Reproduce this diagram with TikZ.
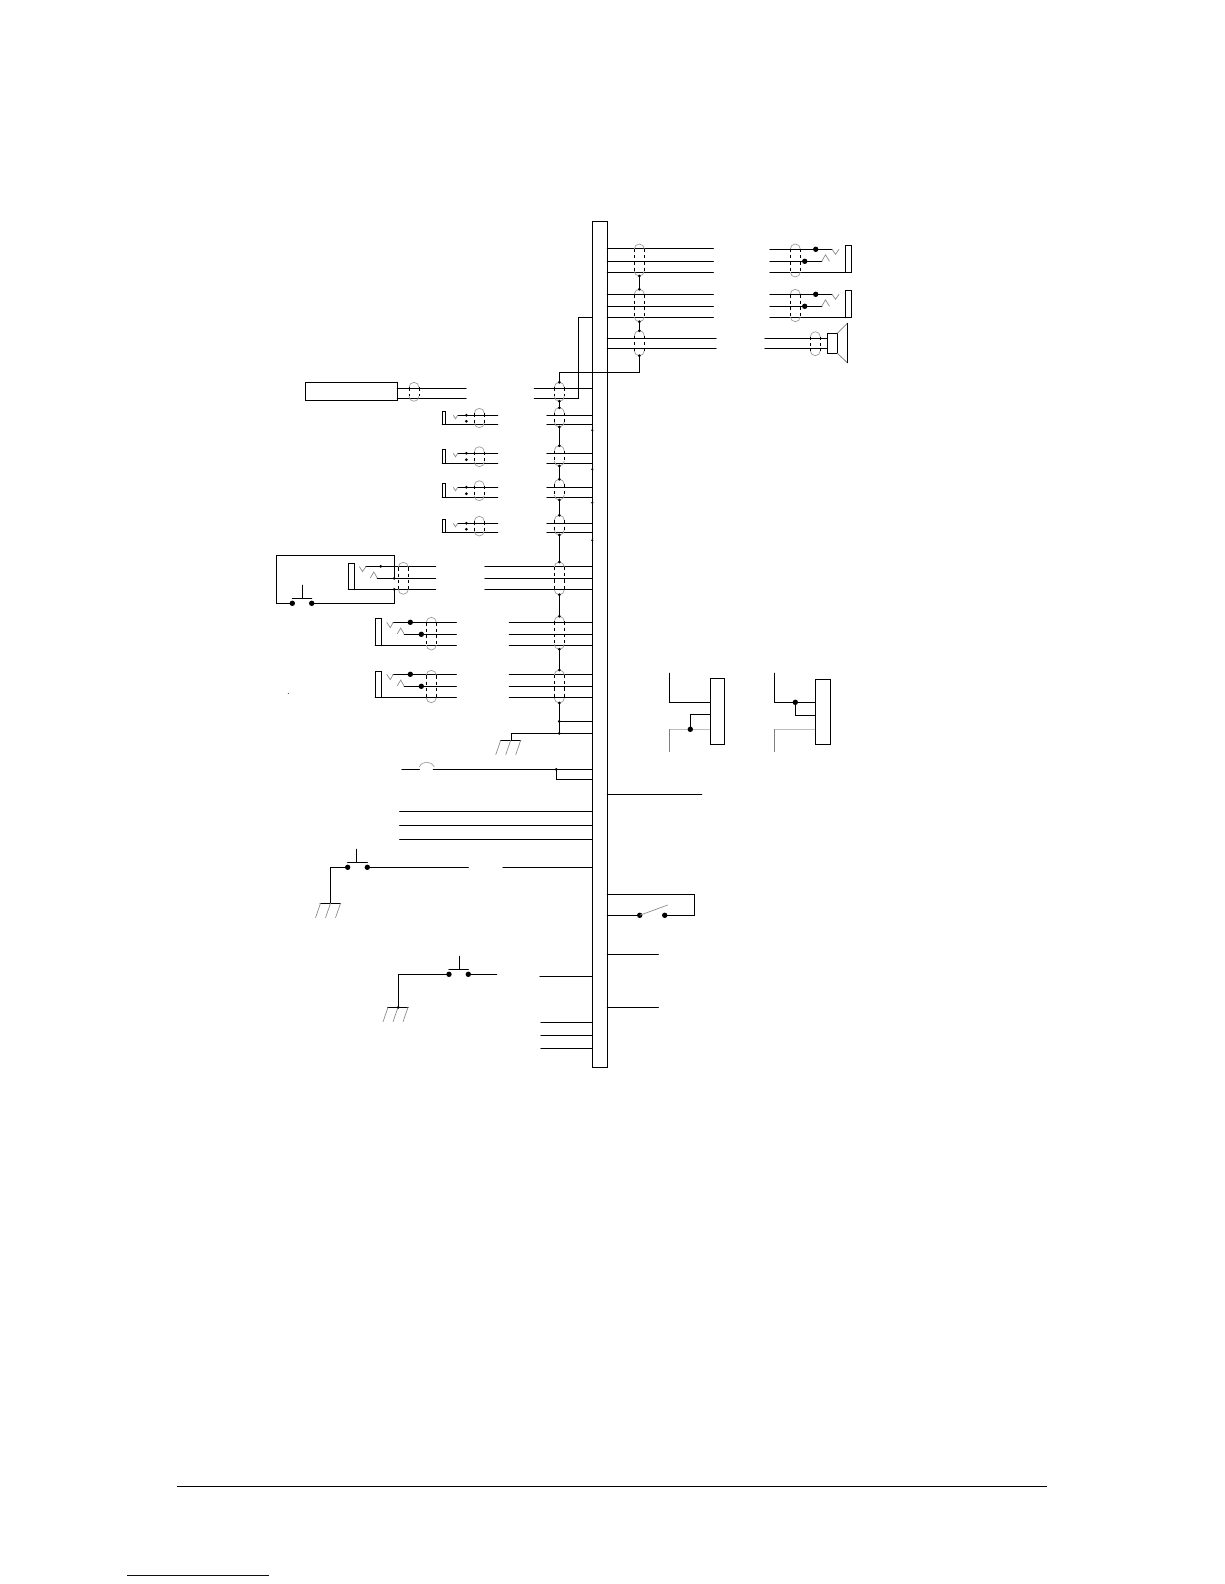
\documentclass[tikz,border=0pt]{standalone}
\tikzset{
  wire/.style={line width=1.15pt,black,line cap=round,line join=miter},
  boxx/.style={draw=black,line width=1.15pt,fill=white,inner sep=0pt,outer sep=0pt,anchor=north west},
  shieldcap/.style={line width=.7pt,black!38},
  shieldside/.style={line width=1pt,black,dash pattern=on 3.2pt off 3pt},
  hatch/.style={line width=.7pt,black!45},
  contact/.style={line width=.7pt,black!45},
  palewire/.style={line width=1.1pt,black!25},
  greywire/.style={line width=1.1pt,black!50},
}
% shield name, centre x, top y, bottom y
\newcommand\shield[4]{%
  \coordinate (#1-t) at (#2,#3); \coordinate (#1-b) at (#2,#4);
  \draw[shieldcap] ({#2-5},{#3+5}) arc[start angle=180,end angle=0,radius=5pt];
  \draw[shieldcap] ({#2-5},{#4-5}) arc[start angle=180,end angle=360,radius=5pt];
  \draw[shieldside] ({#2-5},{#3+5}) -- ({#2-5},{#4-5});
  \draw[shieldside] ({#2+5},{#3+5}) -- ({#2+5},{#4-5});
}
\newcommand\linkup[2]{%
  \draw[wire] (#1) -- (#2);
  \fill (#1) circle (1.5pt); \fill (#2) circle (1.5pt);
}
\newcommand\bigdot[2]{\fill (#1,#2) circle (2.7pt);}
\newcommand\tinydot[2]{\fill (#1,#2) circle (1.5pt);}
\newcommand\barwire[2]{\draw[wire] (#1,#2) -- (bar.west |- 0,#2);}
\newcommand\barwireR[2]{\draw[wire] (bar.east |- 0,#2) -- (#1,#2);}
% ground: centre x, y
\newcommand\ground[2]{%
  \draw[wire] ({#1-10.3},#2) -- ({#1+10},#2);
  \foreach \dx in {-10,0,10}{\draw[hatch] ({#1+\dx},#2) -- ({#1+\dx-5},{#2+14.5});}
}
% push button: x1, x2, y, stem x
\newcommand\pushbtn[4]{%
  \bigdot{#1}{#3}\bigdot{#2}{#3}
  \draw[wire] (#1,{#3-5}) -- (#2,{#3-5});
  \draw[wire] (#4,{#3-5}) -- (#4,{#3-18});
}
% small left jack: rect top, y1, y2, dot y2
\newcommand\jackS[4]{%
  \node[boxx,minimum width=3.6pt,minimum height={#3-#1}] at (442.3,#1) {};
  \draw[wire] (442.3,#3) -- (497.7,#3);
  \draw[wire] (457.7,#2) -- (497.7,#2);
  \tinydot{466.3}{#2}\tinydot{466.3}{#4}
  \draw[contact] (453.3,#2) -- (455.5,{#2+3.5}) -- (457.7,#2);
}
% big left jack: top, y1,y2,y3
\newcommand\jackL[4]{%
  \node[boxx,minimum width=6pt,minimum height={#4-#1}] at (375.3,#1) {};
  \draw[wire] (375.3,#4) -- (456.3,#4);
  \draw[wire] (393.3,#2) -- (456.3,#2);
  \draw[wire] (404.3,#3) -- (456.3,#3);
  \bigdot{410.3}{#2}\bigdot{421.3}{#3}
  \draw[contact] (386.7,#2) -- (390.3,{#2+5.3}) -- (393.3,#2);
  \draw[contact] (397.3,{#3-.5}) -- (400.7,{#3-6.3}) -- (404,{#3-.5});
}
% right jack: y1,y2,y3, top
\newcommand\jackR[4]{%
  \node[boxx,minimum width=6pt,minimum height={#3-#4}] at (845.3,#4) {};
  \draw[wire] (770,#1) -- (831.7,#1);
  \draw[wire] (770,#2) -- (821.7,#2);
  \draw[wire] (770,#3) -- (845.3,#3);
  \bigdot{815.7}{#1}\bigdot{804.7}{#2}
  \draw[contact] (832,#1) -- (835.5,{#1+5}) -- (839,#1);
  \draw[contact] (821.7,#2) -- (825.5,{#2-6.5}) -- (829.5,#2);
}
\begin{document}
\begin{tikzpicture}[x=1pt,y=-1pt]
\useasboundingbox (0,0) rectangle (1224,1584);
\fill[white] (0,0) rectangle (1224,1584);
\node[boxx,minimum width=15pt,minimum height=846pt] (bar) at (592.3,221.3) {};

% right outputs
\foreach \y in {248.3,261.3,272.3,294.3,306.3,317.3}{\barwireR{713.3}{\y}}
\foreach \y in {338.3,348.3}{\barwireR{716}{\y}}
\shield{o1}{639.3}{244}{276}
\shield{o2}{639.3}{289.3}{321.7}
\shield{o3}{639.3}{330.7}{355.7}
\linkup{o1-b}{o2-t}
\linkup{o2-b}{o3-t}
\jackR{249.3}{261.3}{272.3}{245.3}
\jackR{294.3}{306.3}{317.3}{290.3}
\shield{r1}{795.3}{244}{277}
\shield{r2}{795.3}{289.3}{321.7}
% speaker
\node[boxx,minimum width=10pt,minimum height=20pt] (spk) at (827.3,333.3) {};
\draw[wire] (765,338.3) -- (827.3,338.3);
\draw[wire] (765,348.3) -- (827.3,348.3);
\shield{r3}{815.3}{331.7}{355.7}
\draw[greywire,line width=.8pt] (spk.north east) -- (847.3,323.3);
\draw[greywire,line width=.8pt] (spk.south east) -- (847.3,362.7);
\draw[wire] (847.3,323.3) -- (847.3,362.7);

% microphone
\node[boxx,minimum width=92pt,minimum height=18pt] (mic) at (305.3,382.3) {};
\draw[wire] (397.3,388.3) -- (466,388.3);
\draw[wire] (397.3,398.3) -- (466,398.3);
\shield{m1}{414}{382.3}{401.3}
\barwire{534.3}{388.3}
\draw[wire] (534.3,398.3) -- (578.3,398.3) -- (578.3,317.3) -- (bar.west |- 0,317.3);
\shield{m2}{559.3}{382.3}{401.3}
\coordinate (mt) at (559.3,372.3);
\draw[wire] (o3-b) -- (639.3,372.3) -- (mt) -- (m2-t);
\fill (o3-b) circle (1.5pt); \fill (m2-t) circle (1.5pt);

% small jacks
\jackS{411.3}{415.3}{424.3}{421.3}
\jackS{449.3}{453.3}{463.3}{459.7}
\jackS{483.3}{487.3}{497.3}{493.7}
\jackS{519.3}{523.3}{532.3}{529.3}
\shield{a1}{479.3}{408.3}{427.7}
\shield{a2}{479.3}{446.7}{466.7}
\shield{a3}{479.3}{480.7}{500.7}
\shield{a4}{479.3}{516.3}{536}
\foreach \y in {415.3,424.3,453.3,463.3,487.3,497.3,523.3,532.3}{\barwire{547}{\y}}
\shield{b1}{559.3}{407.7}{427}
\shield{b2}{559.3}{445.7}{466}
\shield{b3}{559.3}{479.3}{500}
\shield{b4}{559.3}{515.3}{535}
\linkup{m2-b}{b1-t}
\linkup{b1-b}{b2-t}
\linkup{b2-b}{b3-t}
\linkup{b3-b}{b4-t}
\foreach \y in {430.3,469.3,502.7,540.3}{\fill (592.3,\y) circle (1.2pt);}

% jack with loop
\node[boxx,minimum width=6pt,minimum height=26pt] at (348.3,563.3) {};
\draw[wire] (348.3,589.3) -- (435.7,589.3);
\draw[wire] (366,566.3) -- (435.7,566.3);
\draw[wire] (377.3,578.3) -- (435.7,578.3);
\draw[contact] (359.3,566.5) -- (362.5,571.5) -- (366,566.5);
\draw[contact] (370.3,578) -- (373.8,572) -- (377.3,578);
\tinydot{380.7}{566.3}\tinydot{394.3}{578.3}\tinydot{394.3}{589.3}
\draw[wire] (394.3,578.3) -- (394.3,555.3) -- (276.3,555.3) -- (276.3,603.3) -- (292.3,603.3);
\draw[wire] (311.7,603.3) -- (394.3,603.3) -- (394.3,589.3);
\pushbtn{292.3}{311.7}{603.3}{302.3}
\shield{c0}{403.3}{562.3}{594.3}
\foreach \y in {566.3,578.3,589.3}{\barwire{485}{\y}}
\shield{d0}{559.3}{562}{594.7}
\linkup{b4-b}{d0-t}

% big jacks
\jackL{618.3}{622.3}{634.3}{645.3}
\jackL{671.3}{674.3}{686.3}{697.3}
\shield{c1}{431.3}{617.3}{650}
\shield{c2}{431.3}{670.3}{702.7}
\foreach \y in {622.3,634.3,645.3,674.3,686.3,697.3}{\barwire{509.3}{\y}}
\shield{d1}{559.3}{616.3}{649.3}
\shield{d2}{559.3}{670}{703}
\linkup{d0-b}{d1-t}
\linkup{d1-b}{d2-t}

% ground bus
\coordinate (g1) at (559.3,733.3);
\draw[wire] (d2-b) -- (g1);
\fill (d2-b) circle (1.5pt);
\tinydot{559.3}{721.3}\tinydot{559.3}{733.3}
\draw[wire] (559.3,721.3) -- (bar.west |- 0,721.3);
\draw[wire] (511.3,740.3) -- (511.3,733.3) -- (bar.west |- 0,733.3);
\ground{510.7}{740.3}
\fill (288.3,693.3) circle (.5pt);

% fuse line
\draw[wire] (402,769.3) -- (419.3,769.3);
\draw[wire] (433.3,769.3) -- (bar.west |- 0,769.3);
\draw[shieldcap] (419.3,767) .. controls (422,760.5) and (431,760.5) .. (434.3,767);
\tinydot{556.3}{769.3}
\draw[wire] (556.3,769.3) -- (556.3,779.3) -- (bar.west |- 0,779.3);

\foreach \y in {811.3,825.3,839.3}{\barwire{399.7}{\y}}

% push button 1
\draw[wire] (330.3,903.3) -- (330.3,867.3) -- (347.7,867.3);
\draw[wire] (367.3,867.3) -- (468.3,867.3);
\barwire{503}{867.3}
\pushbtn{347.7}{367.3}{867.3}{356.7}
\ground{330.5}{903.3}

% push button 2
\draw[wire] (398.3,1007.3) -- (398.3,974.3) -- (449,974.3);
\draw[wire] (468.3,974.3) -- (496.7,974.3);
\pushbtn{449}{468.3}{974.3}{459.4}
\ground{398}{1007.3}
\tinydot{398.3}{1007.3}
\barwire{540}{976.3}
\foreach \y in {1022.3,1035.3,1048.3}{\barwire{541}{\y}}

% right blocks
\node[boxx,minimum width=14pt,minimum height=66pt] (k1) at (710.3,678.3) {};
\draw[wire] (669.3,673.3) -- (669.3,702.3) -- (k1.west |- 0,702.3);
\draw[palewire] (669.3,729.3) -- (k1.west |- 0,729.3);
\draw[greywire] (669.3,729.3) -- (669.3,751.7);
\draw[wire] (690.3,729.3) -- (690.3,714.3) -- (k1.west |- 0,714.3);
\bigdot{690.3}{729.3}
\node[boxx,minimum width=15pt,minimum height=65pt] (k2) at (815.3,679.3) {};
\draw[wire] (774.3,673.3) -- (774.3,702.3) -- (k2.west |- 0,702.3);
\draw[palewire] (774.3,729.3) -- (k2.west |- 0,729.3);
\draw[greywire] (774.3,729.3) -- (774.3,751.7);
\draw[wire] (795.3,702.3) -- (795.3,715.3) -- (k2.west |- 0,715.3);
\bigdot{795.3}{702.3}

\barwireR{701.7}{794.3}
% switch
\draw[wire] (bar.east |- 0,894.3) -- (694.3,894.3) -- (694.3,915.3) -- (664.7,915.3);
\draw[wire] (bar.east |- 0,915.3) -- (639.7,915.3);
\bigdot{639.7}{915.3}\bigdot{664.7}{915.3}
\draw[contact] (639.7,915.3) -- (667.7,905);
\barwireR{658.3}{954.3}
\barwireR{658.3}{1007.3}

% footer
\draw[line width=1.2pt] (177,1486.3) -- (1047.4,1486.3);
\draw[line width=1.2pt,color=blue!50!black] (127,1575.3) -- (269,1575.3);
\end{tikzpicture}
\end{document}
